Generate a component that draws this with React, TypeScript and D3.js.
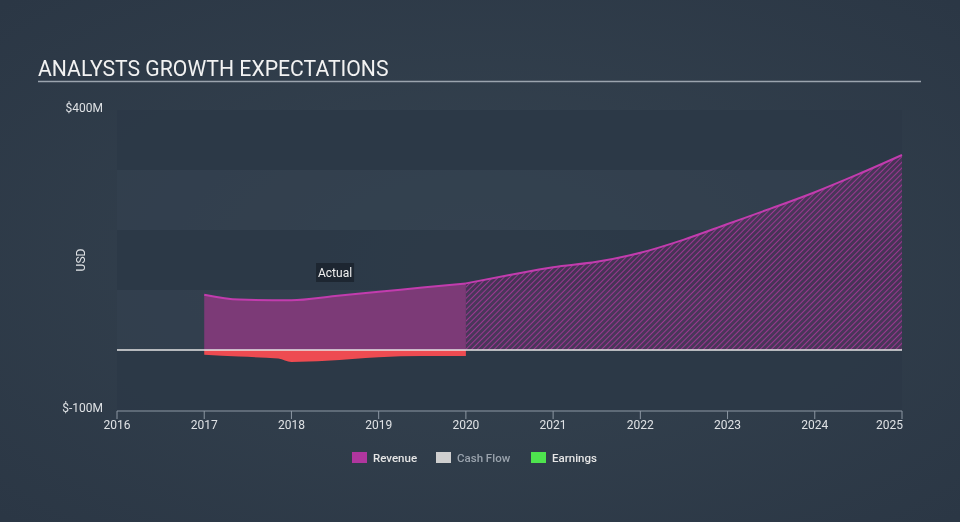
import React from "react";
import * as d3 from "d3";

const W = 960;
const H = 522;

const actualRevenue: [number, number][] = [
  [2017.0, 92], [2017.4, 84], [2018.0, 83], [2018.5, 90], [2019.0, 97], [2019.5, 104], [2020.0, 111],
];
const forecastRevenue: [number, number][] = [
  [2020.0, 111], [2020.5, 125], [2021.0, 138], [2021.5, 147], [2022.0, 162], [2022.5, 184],
  [2023.0, 210], [2023.5, 236], [2024.0, 263], [2024.5, 293], [2025.0, 325],
];
const actualEarnings: [number, number][] = [
  [2017.0, -8], [2017.4, -11], [2017.85, -14], [2018.0, -20], [2018.4, -18], [2019.0, -12], [2019.5, -10], [2020.0, -10],
];
const xTicks = [2016, 2017, 2018, 2019, 2020, 2021, 2022, 2023, 2024, 2025];
const yBands = [400, 300, 200, 100, 0];
const yLabels = [{ v: 400, t: "$400M" }, { v: -100, t: "$-100M" }];
const legendItems = [
  { name: "Revenue", color: "#b0369e", text: "#e6e6e6", x: 352 },
  { name: "Cash Flow", color: "#cfcfcf", text: "#9aa3ad", x: 436 },
  { name: "Earnings", color: "#4ee44e", text: "#e6e6e6", x: 531 },
];

export default function App() {
  const x = d3.scaleLinear().domain([2016, 2025]).range([117, 902]);
  const y = d3.scaleLinear().domain([-100, 400]).range([410, 110]);

  const area = d3
    .area<[number, number]>()
    .x((d) => x(d[0]))
    .y0(y(0))
    .y1((d) => y(d[1]))
    .curve(d3.curveMonotoneX);
  const line = d3
    .line<[number, number]>()
    .x((d) => x(d[0]))
    .y((d) => y(d[1]))
    .curve(d3.curveMonotoneX);

  const font = "Roboto, 'Noto Sans', sans-serif";
  const actualMid = (x(2017) + x(2020)) / 2;

  return (
    <svg
      width={W}
      height={H}
      style={{ position: "fixed", left: 0, top: 0, display: "block" }}
      fontFamily={font}
    >
      <defs>
        <radialGradient id="bg" cx="50%" cy="50%" r="70%">
          <stop offset="0%" stopColor="#364451" />
          <stop offset="100%" stopColor="#2b3745" />
        </radialGradient>
        <pattern id="hatch" width="4" height="4" patternUnits="userSpaceOnUse" patternTransform="rotate(45)">
          <rect width="4" height="4" fill="#5a2f62" fillOpacity="0.55" />
          <line x1="0" y1="0" x2="0" y2="4" stroke="#b0369e" strokeWidth="1.6" />
        </pattern>
      </defs>
      <rect width={W} height={H} fill="url(#bg)" />

      {/* title */}
      <text x={38} y={76} fontSize={21.2} fill="#f2f2f2">ANALYSTS GROWTH EXPECTATIONS</text>
      <line x1={38} x2={921} y1={81.5} y2={81.5} stroke="#9ba4ae" strokeWidth={1.5} />

      {/* bands */}
      {yBands.map((v, i) => (
        <rect
          key={v}
          x={x(2016)}
          width={x(2025) - x(2016)}
          y={y(v)}
          height={y(v - 100) - y(v)}
          fill={i % 2 === 0 ? "#2c3847" : "#334150"}
          fillOpacity={i % 2 === 0 ? 0.85 : 0.6}
        />
      ))}

      {/* forecast revenue */}
      <path d={area(forecastRevenue) || ""} fill="url(#hatch)" />
      <path d={line(forecastRevenue) || ""} fill="none" stroke="#c23cae" strokeWidth={2} />

      {/* actual revenue */}
      <path d={area(actualRevenue) || ""} fill="#7c3a77" />
      <path d={line(actualRevenue) || ""} fill="none" stroke="#c23cae" strokeWidth={2} />

      {/* earnings */}
      <path d={area(actualEarnings) || ""} fill="#ee4b51" />

      {/* zero line */}
      <line x1={x(2016)} x2={x(2025)} y1={y(0)} y2={y(0)} stroke="#e4e4e4" strokeWidth={1.3} />

      {/* actual label */}
      <rect x={actualMid - 19} y={263} width={38} height={19} fill="#1d2631" />
      <text x={actualMid} y={276.5} textAnchor="middle" fontSize={12} fill="#f0f0f0">Actual</text>

      {/* y labels */}
      {yLabels.map((l) => (
        <text key={l.v} x={103} y={y(l.v) + 2} textAnchor="end" fontSize={12} fill="#dfe2e5">{l.t}</text>
      ))}
      <text transform={`translate(85,${y(150)}) rotate(-90)`} textAnchor="middle" fontSize={12} fill="#dfe2e5">USD</text>

      {/* x axis */}
      <line x1={x(2016)} x2={x(2025)} y1={411} y2={411} stroke="#8c97a3" strokeWidth={1} />
      {xTicks.map((t, i) => (
        <g key={t}>
          <line x1={x(t)} x2={x(t)} y1={411} y2={419} stroke="#8c97a3" strokeWidth={1} />
          <text
            x={i === xTicks.length - 1 ? x(t) + 1 : x(t)}
            y={429}
            textAnchor={i === xTicks.length - 1 ? "end" : "middle"}
            fontSize={12}
            fill="#dfe2e5"
          >
            {t}
          </text>
        </g>
      ))}

      {/* legend */}
      {legendItems.map((l) => (
        <g key={l.name}>
          <rect x={l.x} y={452} width={15} height={11} fill={l.color} />
          <text x={l.x + 21} y={462} fontSize={11.5} fontWeight={500} fill={l.text}>{l.name}</text>
        </g>
      ))}
    </svg>
  );
}
